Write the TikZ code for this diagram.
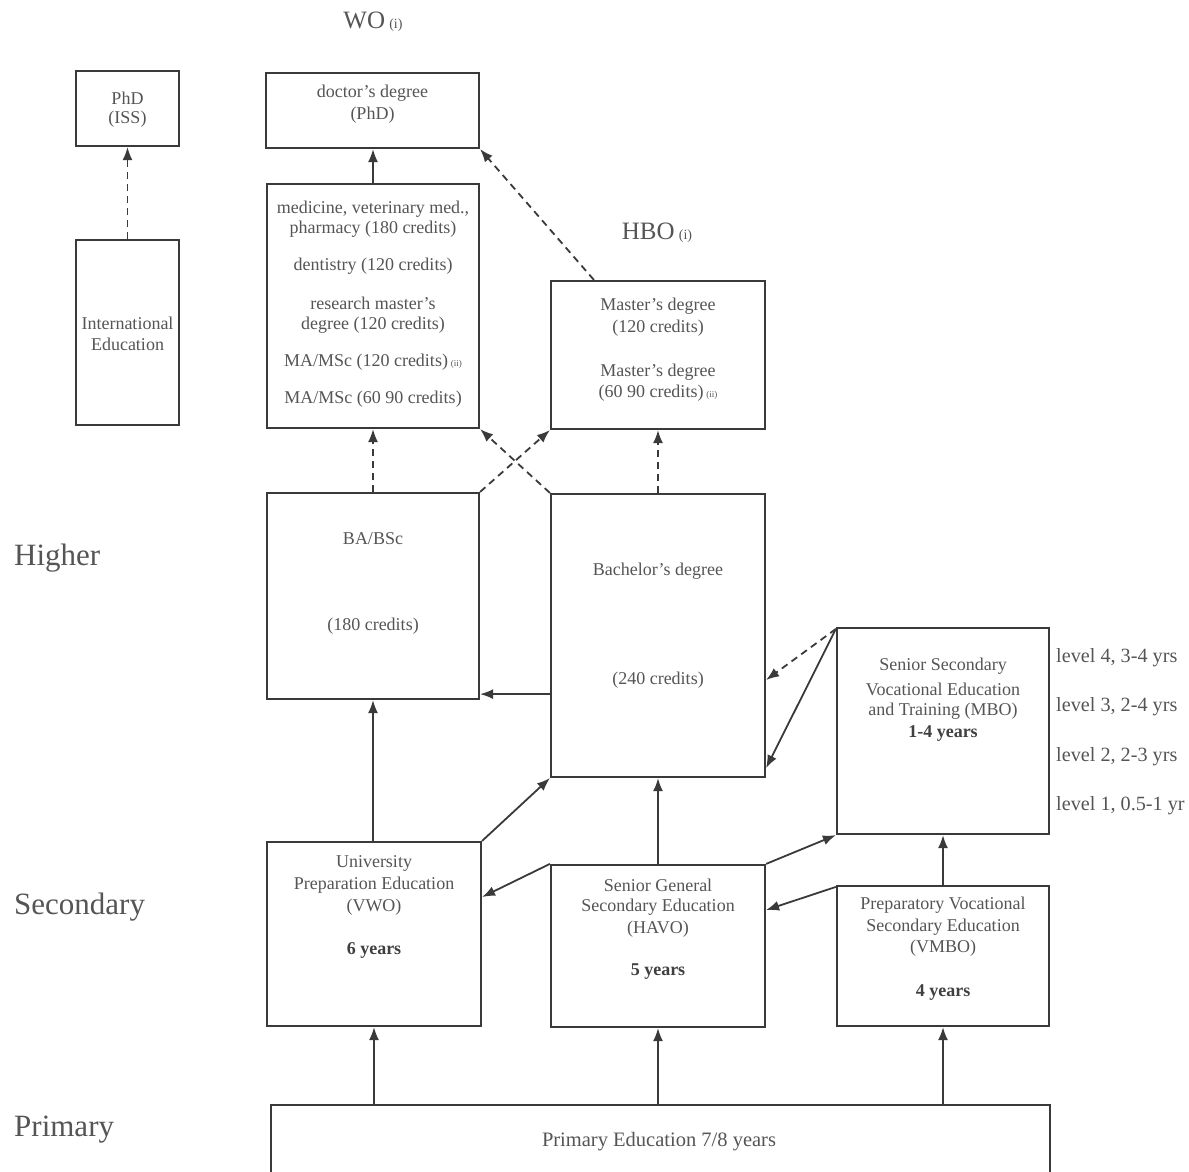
\documentclass[tikz,border=0pt]{standalone}
\usepackage{fontspec}
\setmainfont{Liberation Serif}
\usetikzlibrary{arrows.meta}
\definecolor{linec}{HTML}{3A3A3A}
\definecolor{txtc}{HTML}{555555}
\begin{document}
\begin{tikzpicture}[x=1pt,y=-1pt,
 box/.style={draw=linec, line width=2.2pt, inner sep=0pt},
 arr/.style={draw=linec, line width=1.8pt, -{Latex[length=13pt,width=10pt]}},
 darr/.style={arr, dash pattern=on 7pt off 5pt},
 t/.style={text=txtc, font=\fontsize{18}{20}\selectfont, inner sep=0pt},
 tb/.style={text=black!75, font=\fontsize{18}{20}\selectfont\bfseries, inner sep=0pt},
 lvl/.style={text=txtc, font=\fontsize{20.2}{22}\selectfont, inner sep=0pt, anchor=west},
 big/.style={text=txtc, font=\fontsize{31}{34}\selectfont, inner sep=0pt, anchor=west}]
\useasboundingbox[fill=white] (0,0) rectangle (1189,1171);
\newcommand{\smll}[1]{{\fontsize{9}{10}\selectfont #1}}
% boxes
\node[box, minimum width=103pt, minimum height=75pt] (phdiss) at (127.5,108.5) {};
\node[box, minimum width=103pt, minimum height=185pt] (intl) at (127.5,332.5) {};
\node[box, minimum width=213pt, minimum height=75pt] (doc) at (372.5,110.5) {};
\node[box, minimum width=212pt, minimum height=244pt] (wom) at (373,306) {};
\node[box, minimum width=214pt, minimum height=148pt] (hbom) at (658,355) {};
\node[box, minimum width=212pt, minimum height=206pt] (ba) at (373,596) {};
\node[box, minimum width=214pt, minimum height=283pt] (bach) at (658,635.5) {};
\node[box, minimum width=212pt, minimum height=206pt] (mbo) at (943,731) {};
\node[box, minimum width=214pt, minimum height=184pt] (vwo) at (374,934) {};
\node[box, minimum width=214pt, minimum height=162pt] (havo) at (658,946) {};
\node[box, minimum width=212pt, minimum height=140pt] (vmbo) at (943,956) {};
\node[box, minimum width=779pt, minimum height=72pt] (prim) at (660.5,1141) {};
% headings
\node[text=txtc, font=\fontsize{25}{28}\selectfont, inner sep=0pt] (wo) at (373,22) {WO\,{\fontsize{14}{16}\selectfont(i)}};
\node[text=txtc, font=\fontsize{25}{28}\selectfont, inner sep=0pt] (hbo) at (657,233) {HBO\,{\fontsize{14}{16}\selectfont(i)}};
\node[big] (higher) at (14,558) {Higher};
\node[big] (secondary) at (14,907) {Secondary};
\node[big] (primary) at (14,1130) {Primary};
\node[lvl] (l4) at (1056,658) {level 4, 3-4 yrs};
\node[lvl] (l3) at (1056,707) {level 3, 2-4 yrs};
\node[lvl] (l2) at (1056,757) {level 2, 2-3 yrs};
\node[lvl] (l1) at (1056,806) {level 1, 0.5-1 yr};
% box texts
\node[t] (p1) at (127.5,98) {PhD};
\node[t] (p2) at (127.5,119) {(ISS)};
\node[t] (i1) at (127.5,323) {International};
\node[t] (i2) at (127.5,344) {Education};
\node[t] (d1) at (372.5,93) {doctor's degree};
\node[t] (d2) at (372.5,115) {(PhD)};
\node[t] (w1) at (373,209) {medicine, veterinary med.,};
\node[t] (w2) at (373,229) {pharmacy (180 credits)};
\node[t] (w3) at (373,266) {dentistry (120 credits)};
\node[t] (w4) at (373,303) {research master's};
\node[t] (w5) at (373,325) {degree (120 credits)};
\node[t] (w6) at (373,362) {MA/MSc (120 credits)\,\smll{(ii)}};
\node[t] (w7) at (373,399) {MA/MSc (60 90 credits)};
\node[t] (h1) at (658,306) {Master's degree};
\node[t] (h2) at (658,328) {(120 credits)};
\node[t] (h3) at (658,372) {Master's degree};
\node[t] (h4) at (658,393) {(60 90 credits)\,\smll{(ii)}};
\node[t] (b1) at (373,539) {BA/BSc};
\node[t] (b2) at (373,626) {(180 credits)};
\node[t] (c1) at (658,571) {Bachelor's degree};
\node[t] (c2) at (658,680) {(240 credits)};
\node[t] (m1) at (943,666) {Senior Secondary};
\node[t] (m2) at (943,689) {Vocational Education};
\node[t] (m3) at (943,711) {and Training (MBO)};
\node[tb] (m4) at (943,733) {1-4 years};
\node[t] (v1) at (374,863) {University};
\node[t] (v2) at (374,885) {Preparation Education};
\node[t] (v3) at (374,907) {(VWO)};
\node[tb] (v4) at (374,950) {6 years};
\node[t] (s1) at (658,885) {Senior General};
\node[t] (s2) at (658,907) {Secondary Education};
\node[t] (s3) at (658,929) {(HAVO)};
\node[tb] (s4) at (658,972) {5 years};
\node[t] (x1) at (943,905) {Preparatory Vocational};
\node[t] (x2) at (943,927) {Secondary Education};
\node[t] (x3) at (943,948) {(VMBO)};
\node[tb] (x4) at (943,993) {4 years};
\node[t, font=\fontsize{20.5}{22}\selectfont] (pr) at (659,1142) {Primary Education 7/8 years};
% connectors
\draw[darr] (intl.north) -- (phdiss.south);
\draw[arr] (wom.north) -- (wom.north |- doc.south);
\draw[darr] ([xshift=44pt]hbom.north west) -- (doc.south east);
\draw[darr] (ba.north) -- (ba.north |- wom.south);
\draw[darr] (ba.north east) -- (hbom.south west);
\draw[darr] (bach.north west) -- (wom.south east);
\draw[darr] (hbom.south |- bach.north) -- (hbom.south);
\coordinate (hc) at ([yshift=6pt]ba.south east);
\draw[arr] (hc -| bach.west) -- (hc);
\draw[darr] ([yshift=-2pt]mbo.north west) -- ([yshift=-44.5pt]bach.east);
\draw[arr] ([yshift=-2pt]mbo.north west) -- ([yshift=10pt]bach.south east);
\draw[arr] (ba.south |- vwo.north) -- (ba.south);
\draw[arr] (vwo.north east) -- (bach.south west);
\draw[arr] (havo.north) -- (havo.north |- bach.south);
\draw[arr] (havo.north west) -- ([yshift=37pt]vwo.east);
\draw[arr] (havo.north east) -- (mbo.south west);
\draw[arr] ([yshift=-2pt]vmbo.north west) -- ([yshift=36pt]havo.east);
\draw[arr] (vmbo.north) -- (vmbo.north |- mbo.south);
\draw[arr] (prim.north -| vwo.south) -- (vwo.south);
\draw[arr] (prim.north -| havo.south) -- (havo.south);
\draw[arr] (prim.north -| vmbo.south) -- (vmbo.south);
\end{tikzpicture}
\end{document}
